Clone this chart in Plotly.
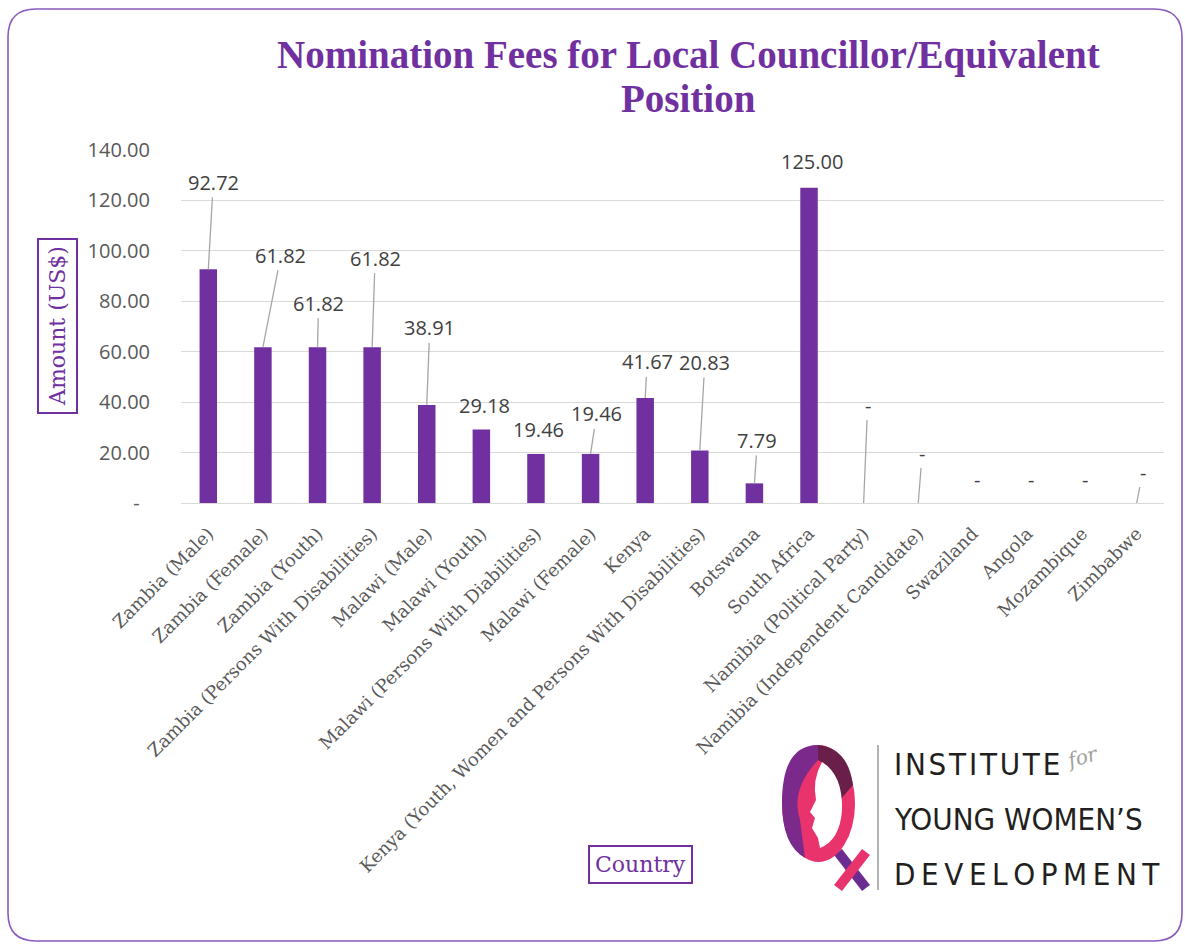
import plotly.graph_objects as go

# ---------------- data ----------------
categories = [
    "Zambia (Male)", "Zambia (Female)", "Zambia (Youth)",
    "Zambia (Persons With Disabilities)", "Malawi (Male)", "Malawi (Youth)",
    "Malawi (Persons With Diabilities)", "Malawi (Female)", "Kenya",
    "Kenya (Youth, Women and Persons With Disabilities)", "Botswana",
    "South Africa", "Namibia (Political Party)",
    "Namibia (Independent Candidate)", "Swaziland", "Angola",
    "Mozambique", "Zimbabwe",
]
fees_usd = [92.72, 61.82, 61.82, 61.82, 38.91, 29.18, 19.46, 19.46, 41.67,
            20.83, 7.79, 125.00, 0, 0, 0, 0, 0, 0]
y_tick_values = [0, 20, 40, 60, 80, 100, 120, 140]
y_tick_labels = ["-\u00a0\u00a0", "20.00", "40.00", "60.00", "80.00",
                 "100.00", "120.00", "140.00"]

# label placement (pixel offsets of the dragged data labels) and leader lines
label_dx = [5, 18, 1, 3, 3, 3, 3, 6, 2, 5, 3, 3, 4, 4, 4, 4, 3, 6]
label_dy = [-87, -92, -44, -89, -77, -24, -24, -40, -36, -88, -43, -26,
            -98, -50, -24, -24, -24, -31]
leader = [1, 1, 1, 1, 1, 0, 0, 1, 1, 1, 1, 0, 1, 1, 0, 0, 0, 1]

PURPLE = "#7030A0"
W, H = 1185, 946
L, R, T, B = 181, 1164, 150, 503  # plot-area pixel edges


def px(x):
    return (x - L) / (R - L)


def py(y):
    return (B - y) / (B - T)


fig = go.Figure()
fig.add_trace(go.Bar(
    x=categories, y=fees_usd, marker=dict(color=PURPLE, line=dict(width=0)),
    hoverinfo="x+y",
))

annotations = []
for c, v, dx, dy, ld in zip(categories, fees_usd, label_dx, label_dy, leader):
    annotations.append(dict(
        x=c, y=v, xref="x", yref="y", ax=dx, ay=dy,
        text=(f"{v:,.2f}" if v else "-"),
        showarrow=True, arrowhead=0, arrowwidth=1.3, standoff=0,
        arrowcolor=("#A6A6A6" if ld else "rgba(0,0,0,0)"),
        font=dict(family="Open Sans, Noto Sans, sans-serif", size=20,
                  color="#404040"),
    ))

# title (two centred lines)
for txt, yc in [("Nomination Fees for Local Councillor/Equivalent", 55),
                ("Position", 98)]:
    annotations.append(dict(
        x=px(688), y=py(yc), xref="paper", yref="paper", showarrow=False,
        xanchor="center", yanchor="middle", text=f"<b>{txt}</b>",
        font=dict(family="Liberation Serif, serif", size=39, color=PURPLE),
    ))

# axis titles (boxed)
annotations.append(dict(
    x=px(57), y=py(326), xref="paper", yref="paper", showarrow=False,
    xanchor="center", yanchor="middle",
    text="Amount (US$)", textangle=-90,
    font=dict(family="DejaVu Serif, serif", size=22, color=PURPLE),
    bordercolor=PURPLE, borderwidth=2, borderpad=6, bgcolor="white",
))
annotations.append(dict(
    x=px(640), y=py(865), xref="paper", yref="paper", showarrow=False,
    xanchor="center", yanchor="middle",
    text="Country",
    font=dict(family="DejaVu Serif, serif", size=22, color=PURPLE),
    bordercolor=PURPLE, borderwidth=2, borderpad=5, bgcolor="white",
))

# logo text
logo_font = "DejaVu Sans Condensed, DejaVu Sans, sans-serif"
for txt, sep, yc in [("INSTITUTE", "\u200a", 764),
                     ("YOUNG WOMEN\u2019S", "", 819),
                     ("DEVELOPMENT", "\u2009", 874)]:
    annotations.append(dict(
        x=px(892), y=py(yc), xref="paper", yref="paper", showarrow=False,
        xanchor="left", yanchor="middle",
        text=sep.join(list(txt)),
        font=dict(family=logo_font, size=31, color="#231F20"),
    ))
annotations.append(dict(
    x=px(1082), y=py(757), xref="paper", yref="paper", showarrow=False,
    xanchor="center", yanchor="middle",
    text="<i>for</i>", textangle=-15,
    font=dict(family="DejaVu Serif, serif", size=20, color="#A0A0A0"),
))

shapes = []
# outer rounded border
x0, y0, x1, y1, r = 8, 9, 1182, 941, 28
path = (f"M {px(x0 + r)} {py(y0)} L {px(x1 - r)} {py(y0)} "
        f"Q {px(x1)} {py(y0)} {px(x1)} {py(y0 + r)} "
        f"L {px(x1)} {py(y1 - r)} Q {px(x1)} {py(y1)} {px(x1 - r)} {py(y1)} "
        f"L {px(x0 + r)} {py(y1)} Q {px(x0)} {py(y1)} {px(x0)} {py(y1 - r)} "
        f"L {px(x0)} {py(y0 + r)} Q {px(x0)} {py(y0)} {px(x0 + r)} {py(y0)} Z")
shapes.append(dict(type="path", xref="paper", yref="paper", path=path,
                   line=dict(color="#8A5BBE", width=1.6), layer="below"))

# logo emblem
shapes.append(dict(type="line", xref="paper", yref="paper",
                   x0=px(878), x1=px(878), y0=py(745), y1=py(890),
                   line=dict(color="#9A9A9A", width=1.5)))
shapes.append(dict(type="line", xref="paper", yref="paper",
                   x0=px(838), y0=py(852), x1=px(866), y1=py(888),
                   line=dict(color="#6B2C91", width=10)))
shapes.append(dict(type="line", xref="paper", yref="paper",
                   x0=px(866), y0=py(852), x1=px(838), y1=py(888),
                   line=dict(color="#E8336D", width=10)))
shapes.append(dict(type="circle", xref="paper", yref="paper",
                   x0=px(782), x1=px(855), y0=py(745), y1=py(862),
                   fillcolor="#E8336D", line=dict(width=0)))
shapes.append(dict(type="path", xref="paper", yref="paper",
                   path=(f"M {px(818)} {py(745)} Q {px(782)} {py(745)} {px(782)} {py(803)} "
                         f"Q {px(782)} {py(845)} {px(805)} {py(858)} "
                         f"L {px(800)} {py(820)} Q {px(790)} {py(790)} {px(818)} {py(760)} Z"),
                   fillcolor="#7B2A8C", line=dict(width=0)))
shapes.append(dict(type="path", xref="paper", yref="paper",
                   path=(f"M {px(818)} {py(745)} Q {px(848)} {py(748)} {px(853)} {py(785)} "
                         f"L {px(840)} {py(800)} Q {px(835)} {py(770)} {px(818)} {py(760)} Z"),
                   fillcolor="#6A1F4A", line=dict(width=0)))
shapes.append(dict(type="path", xref="paper", yref="paper",
                   path=(f"M {px(822)} {py(762)} Q {px(843)} {py(775)} {px(842)} {py(810)} "
                         f"Q {px(840)} {py(840)} {px(820)} {py(848)} "
                         f"L {px(818)} {py(838)} L {px(812)} {py(828)} L {px(815)} {py(818)} "
                         f"L {px(810)} {py(812)} L {px(816)} {py(800)} "
                         f"Q {px(812)} {py(780)} {px(822)} {py(762)} Z"),
                   fillcolor="white", line=dict(width=0)))

fig.update_layout(
    width=W, height=H, autosize=False,
    margin=dict(l=L, r=W - R, t=T, b=H - B, autoexpand=False),
    paper_bgcolor="white", plot_bgcolor="white",
    bargap=0.68, showlegend=False,
    xaxis=dict(
        type="category", tickangle=-45, showgrid=False, showline=False,
        zeroline=False, ticks="outside", ticklen=12,
        tickcolor="rgba(0,0,0,0)",
        tickfont=dict(family="DejaVu Serif, serif", size=18, color="#595959"),
    ),
    yaxis=dict(
        range=[0, 140], tickvals=y_tick_values, ticktext=y_tick_labels,
        showgrid=True, gridcolor="#D9D9D9", gridwidth=1.3,
        zeroline=True, zerolinecolor="#D9D9D9", zerolinewidth=1.3,
        showline=False, ticks="outside", ticklen=26,
        tickcolor="rgba(0,0,0,0)",
        tickfont=dict(family="Open Sans, Noto Sans, sans-serif", size=20,
                      color="#595959"),
    ),
    annotations=annotations, shapes=shapes,
)

fig.write_html("out.html")
